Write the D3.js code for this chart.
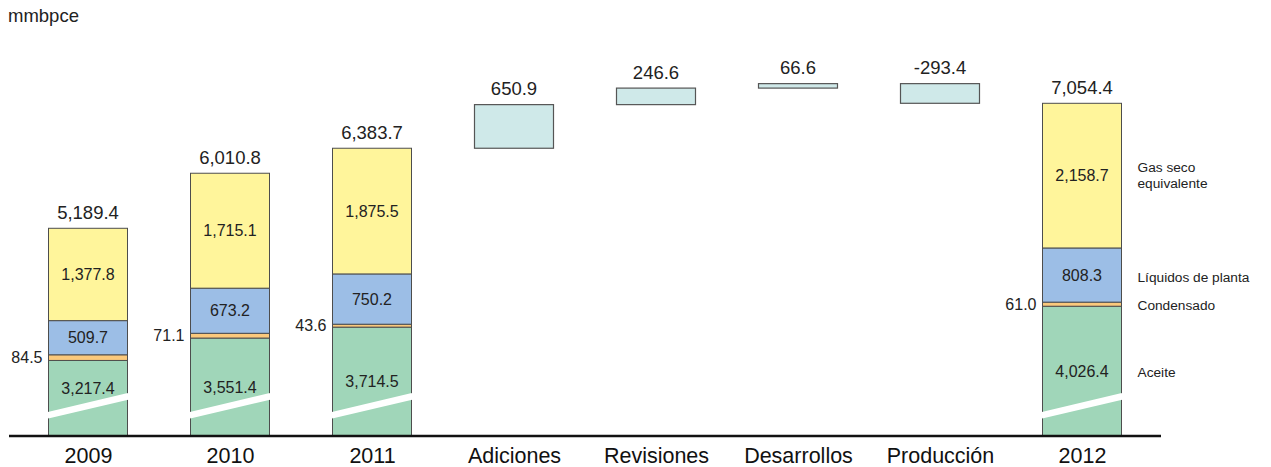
<!DOCTYPE html>
<html>
<head>
<meta charset="utf-8">
<script src="https://cdn.jsdelivr.net/npm/d3@7/dist/d3.min.js"></script>
<style>
  html, body { margin: 0; padding: 0; background: #fff; }
  svg { display: block; font-family: "Liberation Sans", Arial, Helvetica, sans-serif; }
</style>
</head>
<body>
<svg id="chart" width="1271" height="467"></svg>
<script>
// Reservas totales (mmbpce) por tipo de fluido y cambios durante 2012
const categories = ["2009", "2010", "2011", "Adiciones", "Revisiones", "Desarrollos", "Producción", "2012"];
const years = ["2009", "2010", "2011", "2012"];
const aceite = [3217.4, 3551.4, 3714.5, 4026.4];
const condensado = [84.5, 71.1, 43.6, 61.0];
const liquidos = [509.7, 673.2, 750.2, 808.3];
const gasSeco = [1377.8, 1715.1, 1875.5, 2158.7];
const totals = [5189.4, 6010.8, 6383.7, 7054.4];
const changeNames = ["Adiciones", "Revisiones", "Desarrollos", "Producción"];
const changes = [650.9, 246.6, 66.6, -293.4];
const seriesNames = ["Aceite", "Condensado", "Líquidos de planta", "Gas seco equivalente"];
const seriesColors = ["#a0d6b9", "#fbc97c", "#9cbee6", "#fff59b"];
const changeColor = "#cfe9e9";
const unitLabel = "mmbpce";

const svg = d3.select("#chart");
const baseY = 436;
const barW = 79;

const fmt = d3.formatLocale({ decimal: ".", thousands: ",", grouping: [3], currency: ["$", ""], minus: "-" }).format(",.1f");

const x = d3.scalePoint().domain(categories).range([88, 1082]);
// Broken value axis: bars start from a truncated baseline
const y = d3.scaleLinear().domain([2090, 7054.4]).range([baseY, 103.3]);

// Unit label
svg.append("text").attr("x", 8).attr("y", 22)
  .attr("font-size", 18.5).attr("fill", "#222").text(unitLabel);

// Stacked bars per year
const layers = [aceite, condensado, liquidos, gasSeco];
const stackRows = years.map((yr, i) => {
  const row = { year: yr };
  seriesNames.forEach((s, k) => row[s] = layers[k][i]);
  return row;
});
const stacked = d3.stack().keys(seriesNames)(stackRows);

const breakValue = 2540;   // where the axis break band crosses the bar centre
const breakSlope = 0.237;

stacked.forEach((layer, k) => {
  svg.append("g").selectAll("rect").data(layer).join("rect")
    .attr("x", d => x(d.data.year) - barW / 2)
    .attr("y", (d, i) => y(d[1]))
    .attr("width", barW)
    .attr("height", d => (k === 0 ? baseY : y(d[0])) - y(d[1]))
    .attr("fill", seriesColors[k])
    .attr("stroke", "#4d4d4d")
    .attr("stroke-width", 1);
});

// Axis break band across the oil segment
years.forEach(yr => {
  const cx = x(yr), cy = y(breakValue);
  const half = barW / 2 + 1;
  svg.append("line")
    .attr("x1", cx - half).attr("y1", cy + half * breakSlope)
    .attr("x2", cx + half).attr("y2", cy - half * breakSlope)
    .attr("stroke", "#fff").attr("stroke-width", 6.5);
});

// Segment value labels
years.forEach((yr, i) => {
  const cx = x(yr);
  const s = stacked.map(l => l[i]);
  // oil: centred on the visible segment, kept above the break band
  const oilCenter = Math.min((baseY + y(s[0][1])) / 2, y(breakValue) - 17);
  svg.append("text").attr("x", cx).attr("y", oilCenter).attr("dy", "0.35em")
    .attr("text-anchor", "middle").attr("font-size", 16).attr("fill", "#222")
    .text(fmt(aceite[i]));
  // condensate: to the left of the bar
  svg.append("text").attr("x", cx - barW / 2 - 6).attr("y", (y(s[1][0]) + y(s[1][1])) / 2).attr("dy", "0.35em")
    .attr("text-anchor", "end").attr("font-size", 16).attr("fill", "#222")
    .text(fmt(condensado[i]));
  svg.append("text").attr("x", cx).attr("y", (y(s[2][0]) + y(s[2][1])) / 2).attr("dy", "0.35em")
    .attr("text-anchor", "middle").attr("font-size", 16).attr("fill", "#222")
    .text(fmt(liquidos[i]));
  svg.append("text").attr("x", cx).attr("y", (y(s[3][0]) + y(s[3][1])) / 2).attr("dy", "0.35em")
    .attr("text-anchor", "middle").attr("font-size", 16).attr("fill", "#222")
    .text(fmt(gasSeco[i]));
  // total above the bar
  svg.append("text").attr("x", cx).attr("y", y(totals[i]) - 9.5)
    .attr("text-anchor", "middle").attr("font-size", 18.5).attr("fill", "#222")
    .text(fmt(totals[i]));
});

// Waterfall of changes starting from the 2011 total
let running = totals[2];
const steps = changes.map((v, i) => {
  const start = running;
  running += v;
  return { name: changeNames[i], start, end: running, value: v };
});

svg.append("g").selectAll("rect").data(steps).join("rect")
  .attr("x", d => x(d.name) - barW / 2)
  .attr("y", d => y(Math.max(d.start, d.end)))
  .attr("width", barW)
  .attr("height", d => Math.abs(y(d.start) - y(d.end)))
  .attr("fill", changeColor)
  .attr("stroke", "#555")
  .attr("stroke-width", 1.2);

svg.append("g").selectAll("text").data(steps).join("text")
  .attr("x", d => x(d.name))
  .attr("y", d => y(Math.max(d.start, d.end)) - 9.5)
  .attr("text-anchor", "middle").attr("font-size", 18.5).attr("fill", "#222")
  .text(d => fmt(d.value));

// Baseline
svg.append("line").attr("x1", 9).attr("x2", 1161).attr("y1", baseY).attr("y2", baseY)
  .attr("stroke", "#111").attr("stroke-width", 2.5);

// Category labels
const axis = d3.axisBottom(x).tickSize(0).tickPadding(0);
const ax = svg.append("g").attr("transform", `translate(0,${baseY})`).call(axis);
ax.select(".domain").remove();
ax.selectAll("text").attr("font-size", 21.5).attr("fill", "#111")
  .attr("font-family", null).attr("dy", null).attr("y", 27);

// Series legend, aligned with the 2012 bar segments
const last = years.length - 1;
const s12 = stacked.map(l => l[last]);
const lx = x("2012") + barW / 2 + 16;
const legend = svg.append("g").attr("font-size", 13.7).attr("fill", "#222");
const gasMid = (y(s12[3][0]) + y(s12[3][1])) / 2;
const gasText = legend.append("text").attr("x", lx).attr("y", gasMid - 8).attr("dy", "0.35em");
gasText.append("tspan").attr("x", lx).text("Gas seco");
gasText.append("tspan").attr("x", lx).attr("dy", 16).text("equivalente");
legend.append("text").attr("x", lx).attr("y", (y(s12[2][0]) + y(s12[2][1])) / 2 + 2).attr("dy", "0.35em").text(seriesNames[2]);
legend.append("text").attr("x", lx).attr("y", (y(s12[1][0]) + y(s12[1][1])) / 2 + 1).attr("dy", "0.35em").text(seriesNames[1]);
legend.append("text").attr("x", lx).attr("y", Math.min((baseY + y(s12[0][1])) / 2, y(breakValue) - 17) + 1).attr("dy", "0.35em").text(seriesNames[0]);
</script>
</body>
</html>
